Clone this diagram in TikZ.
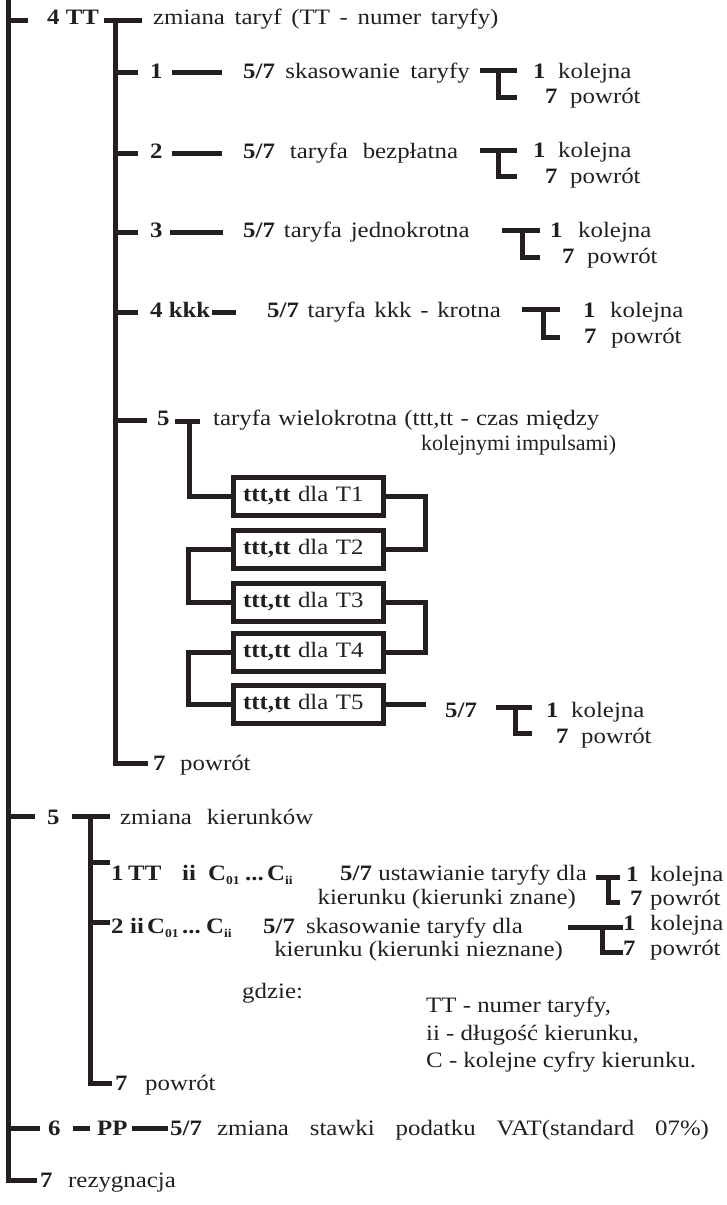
\documentclass[tikz,border=0pt]{standalone}
\usepackage{fontspec}
\setmainfont{Liberation Serif}
\definecolor{ink}{RGB}{35,31,32}
\newcommand\sxs[3]{\scalebox{#1}[1]{\spaceskip=#2\relax #3}}
\newcommand\sx[1]{\sxs{1.13}{0.25em}{#1}}
\newcommand\lowsub[1]{\raisebox{-4pt}{\fontsize{12}{12}\selectfont\bfseries #1}}
\newcommand\tbrk[6]{% name, x1, xv, x2, y1, y2
  \coordinate (#1a) at (#2,#5);
  \coordinate (#1b) at (#4,#5);
  \coordinate (#1c) at (#3,#5);
  \coordinate (#1d) at (#3,#6);
  \coordinate (#1e) at (#4,#6);
  \draw[ln] (#1a) -- (#1b);
  \draw[ln] (#1c) -- (#1d) -- (#1e);
}
\newcommand\kolpow[7]{% name, x1, xk, y1, x7, xp, y2
  \node[txt] (#1n1) at (#2,#4) {\sx{\textbf{1}}};
  \node[txt] (#1kol) at (#3,#4) {\sx{kolejna}};
  \node[txt] (#1n7) at (#5,#7) {\sx{\textbf{7}}};
  \node[txt] (#1pow) at (#6,#7) {\sx{powrót}};
}
\newcommand\seg[5]{% name, xa, ya, xb, yb
  \coordinate (#1a) at (#2,#3);
  \coordinate (#1b) at (#4,#5);
  \draw[ln] (#1a) -- (#1b);
}
\begin{document}
\begin{tikzpicture}[x=1pt,y=-1pt,
  ln/.style={line width=5pt, draw=ink},
  txt/.style={anchor=base west, inner sep=0pt, text=ink, font=\fontsize{22}{25}\selectfont},
  txtr/.style={txt, anchor=base east},
  tbox/.style={draw=ink, line width=5pt, minimum width=150pt, minimum height=38pt, inner sep=0pt, text width=130pt, align=left, text=ink, font=\fontsize{22}{25}\selectfont}]
\useasboundingbox (0,0) rectangle (726,1205);

% main spine
\coordinate (m0) at (8,0);
\coordinate (m7) at (8,1180);
\coordinate (r7) at (37,1180);
\draw[ln] (m0) -- (m7) -- (r7);
\seg{s4}{8}{20}{28}{20}
\seg{s5}{8}{816}{35}{816}
\seg{s6}{8}{1128}{40}{1128}

% ---- 4 TT
\node[txt] (t4) at (47,24) {\sx{\textbf{4 TT}}};
\seg{d4}{104}{20}{142}{20}
\node[txt] (t4d) at (153,24) {\sxs{1.13}{0.39em}{zmiana taryf (TT - numer taryfy)}};
\coordinate (a0) at (115,20);
\coordinate (a7) at (115,763);
\coordinate (a7r) at (148,763);
\draw[ln] (a0) -- (a7) -- (a7r);

% row 1
\seg{st1}{115}{72}{138}{72}
\node[txt] (r1n) at (150,78) {\sx{\textbf{1}}};
\seg{dd1}{172}{72}{222}{72}
\node[txt] (r1t) at (243,78) {\sxs{1.13}{0.42em}{\textbf{5/7} skasowanie taryfy}};
\tbrk{k1}{480}{498}{517}{70}{97}
\kolpow{k1}{533}{558}{78}{545}{570}{103}

% row 2
\seg{st2}{115}{153}{138}{153}
\node[txt] (r2n) at (150,158) {\sx{\textbf{2}}};
\seg{dd2}{172}{153}{222}{153}
\node[txt] (r2t) at (243,158) {\sxs{1.13}{0.6em}{\textbf{5/7} taryfa bezpłatna}};
\tbrk{k2}{480}{498}{517}{150}{176}
\kolpow{k2}{533}{558}{157}{545}{570}{183}

% row 3
\seg{st3}{115}{232}{138}{232}
\node[txt] (r3n) at (150,237) {\sx{\textbf{3}}};
\seg{dd3}{170}{232}{223}{232}
\node[txt] (r3t) at (243,237) {\sxs{1.13}{0.36em}{\textbf{5/7} taryfa jednokrotna}};
\tbrk{k3}{502}{522}{540}{230}{257}
\kolpow{k3}{550}{578}{237}{562}{587}{263}

% row 4
\seg{st4}{115}{312}{138}{312}
\node[txt] (r4n) at (150,317) {\sx{\textbf{4 kkk}}};
\seg{dd4}{212}{312}{236}{312}
\node[txt] (r4t) at (267,317) {\sxs{1.13}{0.35em}{\textbf{5/7} taryfa kkk - krotna}};
\tbrk{k4}{522}{543}{560}{309}{337}
\kolpow{k4}{583}{610}{317}{584}{611}{343}

% row 5
\seg{st5}{115}{420}{147}{420}
\node[txt] (r5n) at (157,425) {\sx{\textbf{5}}};
\node[txt] (r5t) at (213,425) {\sxs{1.13}{0.29em}{taryfa wielokrotna (ttt,tt - czas między}};
\node[txt] (r5u) at (421,450) {\sxs{1.0}{0.25em}{kolejnymi impulsami)}};
\seg{w5}{175}{421}{200}{421}
\coordinate (w5c) at (189,421);

\node[tbox] (b1) at (308,496) {\sxs{1.13}{0.3em}{\textbf{ttt,tt} dla T1}};
\node[tbox] (b2) at (308,549) {\sxs{1.13}{0.3em}{\textbf{ttt,tt} dla T2}};
\node[tbox] (b3) at (308,602) {\sxs{1.13}{0.3em}{\textbf{ttt,tt} dla T3}};
\node[tbox] (b4) at (308,652) {\sxs{1.13}{0.3em}{\textbf{ttt,tt} dla T4}};
\node[tbox] (b5) at (308,704) {\sxs{1.13}{0.3em}{\textbf{ttt,tt} dla T5}};
\coordinate (rx) at (425,0);
\coordinate (lx) at (188,0);
\coordinate (e5) at (426,704);
\draw[ln] (w5c) |- (b1.west);
\draw[ln] (b1.east) -- (b1.east -| rx) |- (b2.east);
\draw[ln] (b2.west) -- (b2.west -| lx) |- (b3.west);
\draw[ln] (b3.east) -- (b3.east -| rx) |- (b4.east);
\draw[ln] (b4.west) -- (b4.west -| lx) |- (b5.west);
\draw[ln] (b5.east) -- (b5.east -| e5);
\node[txt] (f57) at (445,717) {\sx{\textbf{5/7}}};
\tbrk{k5}{496}{515}{532}{707}{733}
\kolpow{k5}{546}{571}{717}{556}{581}{743}

% 7 powrot (level 2)
\node[txt] (a7n) at (153,770) {\sx{\textbf{7}}};
\node[txt] (a7t) at (180,770) {\sx{powrót}};

% ---- 5 zmiana kierunkow
\node[txt] (t5) at (47,824) {\sx{\textbf{5}}};
\seg{c5}{72}{816}{110}{816}
\coordinate (c0) at (90,816);
\coordinate (c7) at (90,1083);
\coordinate (c7r) at (112,1083);
\draw[ln] (c0) -- (c7) -- (c7r);
\node[txt] (t5d) at (120,824) {\sxs{1.13}{0.6em}{zmiana kierunków}};

\seg{q1s}{90}{862}{110}{862}
\node[txt] (q1p1) at (111,880) {\sx{\textbf{1}}};
\node[txt] (q1p2) at (128,880) {\sx{\textbf{TT}}};
\node[txt] (q1p3) at (182,880) {\sx{\textbf{ii}}};
\node[txt] (q1p4) at (208,880) {\sx{\textbf{C}\lowsub{01}}};
\node[txt] (q1p5) at (245,880) {\sx{\textbf{...}}};
\node[txt] (q1p6) at (267,880) {\sx{\textbf{C}\lowsub{ii}}};
\node[txt] (q1p7) at (340,880) {\sx{\textbf{5/7}}};
\node[txtr] (q1p8) at (587,880) {\sx{ustawianie taryfy dla}};
\node[txtr] (q1l2) at (576,904) {\sx{kierunku (kierunki znane)}};
\tbrk{q1}{596}{608}{620}{877}{902}
\kolpow{q1}{626}{650}{881}{630}{650}{905}

\seg{q2s}{90}{922}{110}{922}
\node[txt] (q2p1) at (111,933) {\sx{\textbf{2}}};
\node[txt] (q2p2) at (130,933) {\sx{\textbf{ii}}};
\node[txt] (q2p4) at (147,933) {\sx{\textbf{C}\lowsub{01}}};
\node[txt] (q2p5) at (182,933) {\sx{\textbf{...}}};
\node[txt] (q2p6) at (206,933) {\sx{\textbf{C}\lowsub{ii}}};
\node[txt] (q2p7) at (263,933) {\sx{\textbf{5/7}}};
\node[txtr] (q2p8) at (523,933) {\sx{skasowanie taryfy dla}};
\node[txtr] (q2l2) at (563,956) {\sx{kierunku (kierunki nieznane)}};
\tbrk{q2}{568}{602}{623}{927}{952}
\kolpow{q2}{623}{650}{930}{623}{650}{955}

\node[txt] (g0) at (242,998) {\sx{gdzie:}};
\node[txt] (g1) at (426,1012) {\sx{TT - numer taryfy,}};
\node[txt] (g2) at (426,1040) {\sx{ii - długość kierunku,}};
\node[txt] (g3) at (426,1067) {\sx{C - kolejne cyfry kierunku.}};

\node[txt] (c7n) at (115,1090) {\sx{\textbf{7}}};
\node[txt] (c7t) at (145,1090) {\sx{powrót}};

% ---- 6 PP
\node[txt] (t6) at (48,1135) {\sx{\textbf{6}}};
\seg{p1}{73}{1128}{90}{1128}
\node[txt] (t6p) at (97,1135) {\sx{\textbf{PP}}};
\seg{p2}{132}{1128}{168}{1128}
\node[txt] (t6f) at (170,1135) {\sx{\textbf{5/7}}};
\node[txt] (t6d) at (217,1135) {\sxs{1.13}{0.42em}{zmiana\ \ stawki\ \ podatku\ \ VAT(standard\ \ 07\%)}};

% ---- 7 rezygnacja
\node[txt] (t7) at (40,1187) {\sx{\textbf{7}}};
\node[txt] (t7d) at (68,1187) {\sx{rezygnacja}};
\end{tikzpicture}
\end{document}
